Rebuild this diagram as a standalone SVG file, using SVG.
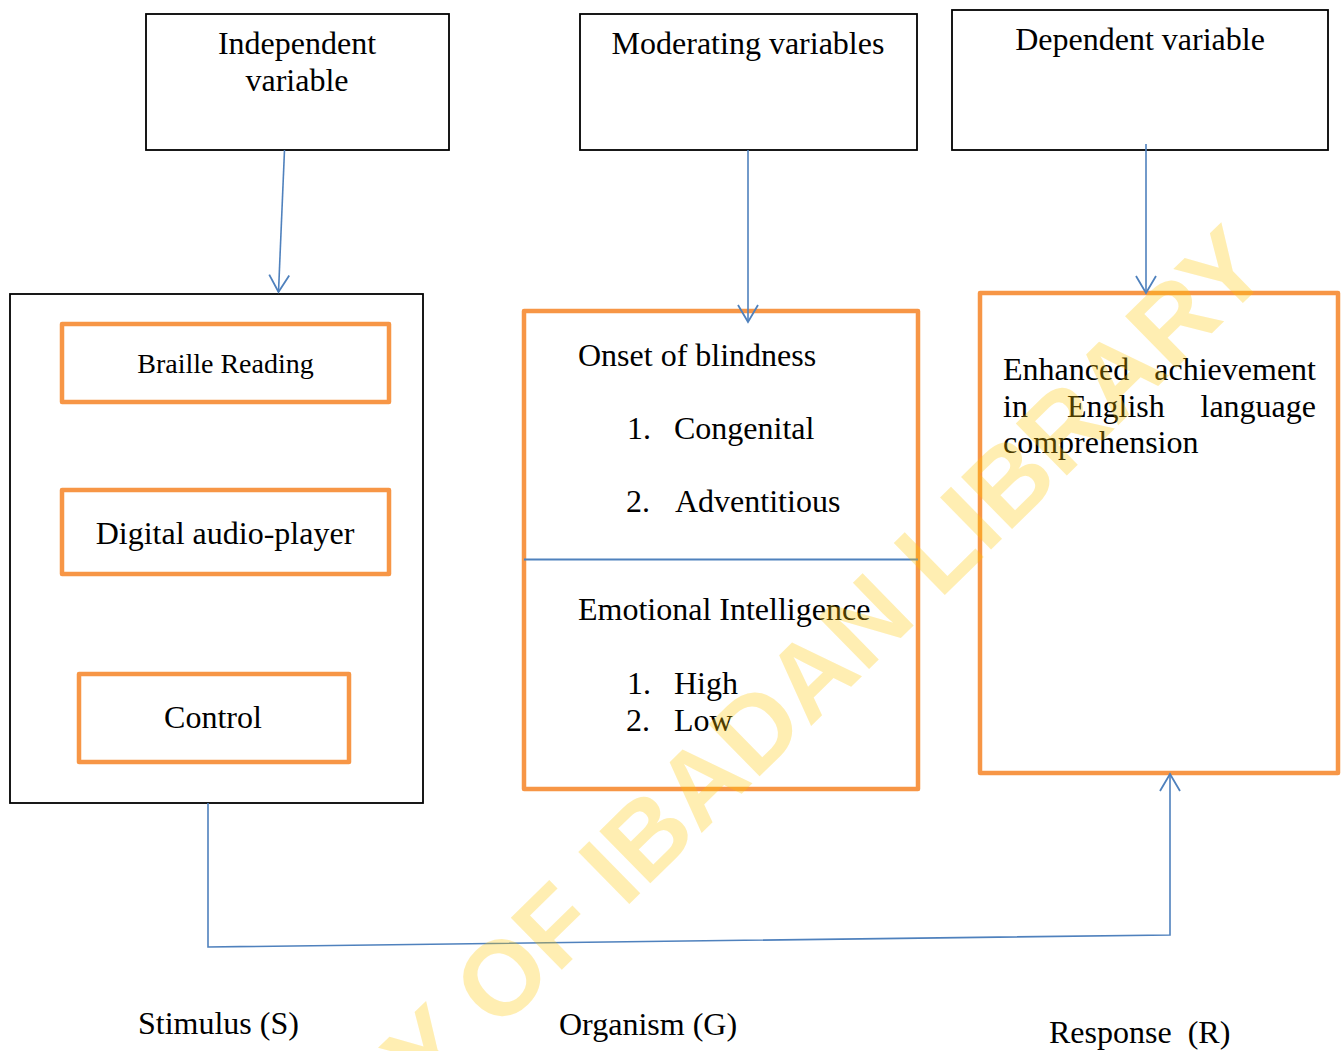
<svg xmlns="http://www.w3.org/2000/svg" width="1343" height="1051" viewBox="0 0 1343 1051">
<style>
  text { font-family: "Liberation Serif", "Times New Roman", serif; font-size: 32px; fill: #000; }
  .small { font-size: 28px; }
  .mid { text-anchor: middle; }
  .box { fill: none; stroke: #000; stroke-width: 1.8; }
  .obox { fill: none; stroke: #F79646; stroke-width: 4.5; stroke-linejoin: round; }
  .conn { fill: none; stroke: #4F81BD; stroke-width: 1.6; }
  .wm { font-family: "Liberation Sans", Arial, sans-serif; font-weight: bold; font-size: 106px; fill: #FFC800; fill-opacity: 0.3; text-anchor: middle; }
</style>
<defs>
  <marker id="arr" viewBox="0 0 20 22" refX="18" refY="11" markerWidth="20" markerHeight="22" markerUnits="userSpaceOnUse" orient="auto">
    <path d="M1,1 L18,11 L1,21" fill="none" stroke="#4F81BD" stroke-width="1.8"/>
  </marker>
</defs>
<rect width="1343" height="1051" fill="#fff"/>

<g id="independent-variable">
  <rect class="box" x="146" y="14" width="303" height="136"/>
  <text class="mid" x="297" y="54">Independent</text>
  <text class="mid" x="297" y="91">variable</text>
</g>

<g id="moderating-variables">
  <rect class="box" x="580" y="14" width="337" height="136"/>
  <text class="mid" x="748" y="54">Moderating variables</text>
</g>

<g id="dependent-variable">
  <rect class="box" x="952" y="10" width="376" height="140"/>
  <text class="mid" x="1140" y="50">Dependent variable</text>
</g>

<g id="stimulus-box">
  <rect class="box" x="10" y="294" width="413" height="509"/>
</g>

<g id="braille-reading">
  <rect class="obox" x="62" y="324" width="327" height="78"/>
  <text class="mid small" x="225.5" y="373">Braille Reading</text>
</g>

<g id="digital-audio-player">
  <rect class="obox" x="62" y="490" width="327" height="84"/>
  <text class="mid" x="225" y="544">Digital audio-player</text>
</g>

<g id="control">
  <rect class="obox" x="79" y="674" width="270" height="88"/>
  <text class="mid" x="213" y="728">Control</text>
</g>

<g id="organism-box">
  <rect class="obox" x="524" y="311" width="394" height="478"/>
  <line x1="524" y1="559.5" x2="918" y2="559.5" stroke="#4F81BD" stroke-width="1.8"/>
  <text x="578" y="366">Onset of blindness</text>
  <text x="627" y="439">1.</text>
  <text x="674" y="439">Congenital</text>
  <text x="626" y="512">2.</text>
  <text x="675" y="512">Adventitious</text>
  <text x="578" y="620">Emotional Intelligence</text>
  <text x="627" y="694">1.</text>
  <text x="674" y="694">High</text>
  <text x="626" y="731">2.</text>
  <text x="674" y="731">Low</text>
</g>

<g id="response-box">
  <rect class="obox" x="980" y="293" width="358" height="480"/>
  <text y="380"><tspan x="1003">Enhanced</tspan><tspan x="1316" text-anchor="end">achievement</tspan></text>
  <text y="417"><tspan x="1003">in</tspan><tspan x="1067">English</tspan><tspan x="1316" text-anchor="end">language</tspan></text>
  <text x="1003" y="453">comprehension</text>
</g>

<g id="labels">
  <text x="138" y="1034">Stimulus (S)</text>
  <text x="559" y="1035">Organism (G)</text>
  <text x="1049" y="1043" xml:space="preserve" style="white-space:pre">Response  (R)</text>
</g>

<g id="connectors">
  <line class="conn" x1="284.5" y1="150" x2="278.5" y2="292" marker-end="url(#arr)"/>
  <line class="conn" x1="748" y1="150" x2="748" y2="322" marker-end="url(#arr)"/>
  <line class="conn" x1="1146" y1="144" x2="1146" y2="293" marker-end="url(#arr)"/>
  <polyline class="conn" points="208,803 208,947 1170,935 1170,774" marker-end="url(#arr)"/>
</g>

<g id="watermark" transform="translate(824,660) rotate(-44.4)">
  <text class="wm" x="0" y="38">Y OF IBADAN LIBRARY</text>
</g>
</svg>
